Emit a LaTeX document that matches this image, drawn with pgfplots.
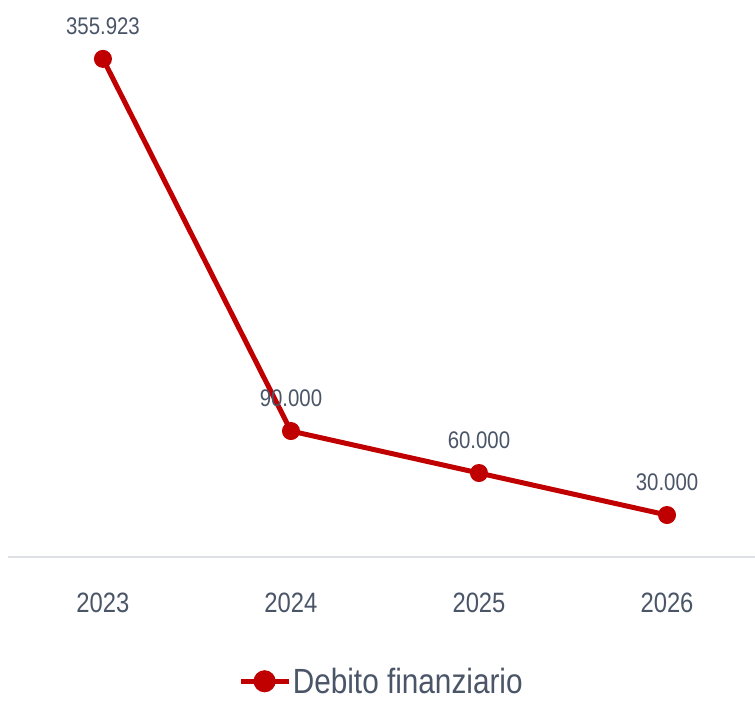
\documentclass[border=0pt]{standalone}
\usepackage{fontspec}
\setmainfont{Liberation Sans}[FakeStretch=0.85]
\usepackage{pgfplots}
\pgfplotsset{compat=1.18}
\definecolor{lineRed}{HTML}{C00000}
\definecolor{txt}{HTML}{4A5568}
\definecolor{axgrey}{HTML}{DDE1E6}
\begin{document}
\begin{tikzpicture}[x=1pt,y=1pt]
\begin{axis}[
  at={(0,0)}, anchor=south west,
  scale only axis, width=747pt, height=557pt,
  xmin=-0.505, xmax=3.468,
  ymin=0, ymax=398000,
  axis line style={draw=none},
  axis x line*=bottom,
  axis y line=none,
  xtick={0,1,2,3},
  xticklabels={2023,2024,2025,2026},
  major tick length=0pt,
  xticklabel style={font=\fontsize{28}{32}\selectfont, text=txt, yshift=-32pt},
  /pgf/number format/assume math mode=true,
  clip=false,
  legend style={at={(0.5,-0.195)}, anchor=north, draw=none, fill=none,
    font=\fontsize{35}{40}\selectfont, text=txt, legend columns=1,
    inner sep=0pt},
  legend image code/.code={
    \draw[line width=4.5pt] (0pt,0pt) -- (48pt,0pt);
    \fill (24pt,0pt) circle (8.5pt);
  },
]
\draw[axgrey, line width=1.2pt] (axis cs:-0.505,0) -- (axis cs:3.468,0);
\addplot[color=lineRed, line width=5pt, mark=*, mark size=8.5pt,
  mark options={solid, fill=lineRed, draw=lineRed, line width=1pt},
  nodes near coords={\pgfmathprintnumber[fixed, precision=0, 1000 sep={.}, use comma]{\pgfplotspointmeta}},
  every node near coord/.append style={font=\fontsize{24}{28}\selectfont, text=txt, yshift=20pt},
  point meta=explicit,
] coordinates {
  (0,355923) [355923]
  (1,90000) [90000]
  (2,60000) [60000]
  (3,30000) [30000]
};
\addlegendentry{Debito finanziario}
\end{axis}
\pgfresetboundingbox
\path[use as bounding box] (-8pt,-144pt) rectangle (747pt,557pt);
\end{tikzpicture}
\end{document}
